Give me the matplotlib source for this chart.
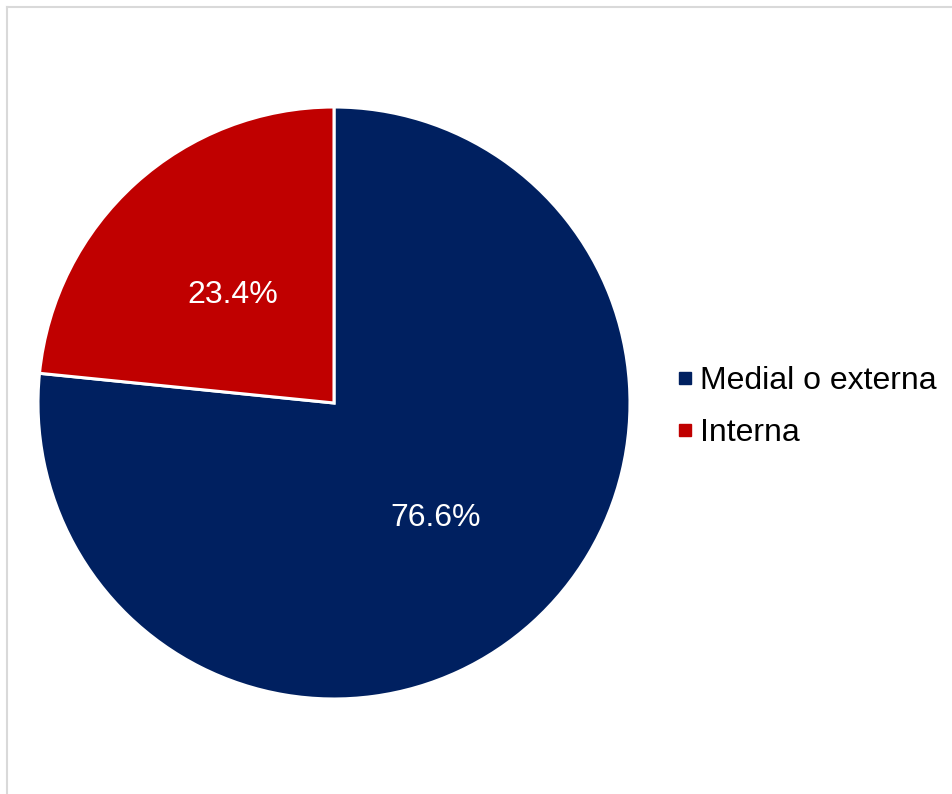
import matplotlib.pyplot as plt
from matplotlib.lines import Line2D

plt.rcParams["font.family"] = ["Liberation Sans", "DejaVu Sans"]

# Location of the lesion
categories = ["Medial o externa", "Interna"]
shares = [76.6, 23.4]
colors = ["#002060", "#C00000"]

W, H = 952, 794
fig = plt.figure(figsize=(W / 100, H / 100), dpi=100)

# pie centred at (334, 403) px, radius 296 px
cx, cy, r = 334, 403, 296
ax = fig.add_axes([(cx - r) / W, (H - cy - r) / H, 2 * r / W, 2 * r / H])
wedges, texts, autotexts = ax.pie(
    shares, colors=colors, startangle=90, counterclock=False,
    autopct="%.1f%%", pctdistance=0.51, radius=1,
    wedgeprops=dict(edgecolor="white", linewidth=2.2),
    textprops=dict(color="white", fontsize=23),
)
for t in autotexts:
    t.set_va("center_baseline")
ax.set_xlim(-1, 1)
ax.set_ylim(-1, 1)
ax.set_aspect("equal")

handles = [Line2D([], [], marker="s", linestyle="none", markersize=8,
                  markerfacecolor=c, markeredgecolor=c) for c in colors]
fig.legend(handles, categories, loc="center left",
           bbox_to_anchor=(663 / W, 1 - 407 / H), frameon=False,
           fontsize=23, handlelength=0.6, handletextpad=0.15,
           labelspacing=0.7, borderaxespad=0)

# light frame around the chart area
fig.add_artist(Line2D([7 / W, 7 / W], [0, 1 - 7 / H], color="#d9d9d9", lw=1.5))
fig.add_artist(Line2D([7 / W, 1], [1 - 7 / H, 1 - 7 / H], color="#d9d9d9", lw=1.5))

fig.savefig("out.png", dpi=100)
